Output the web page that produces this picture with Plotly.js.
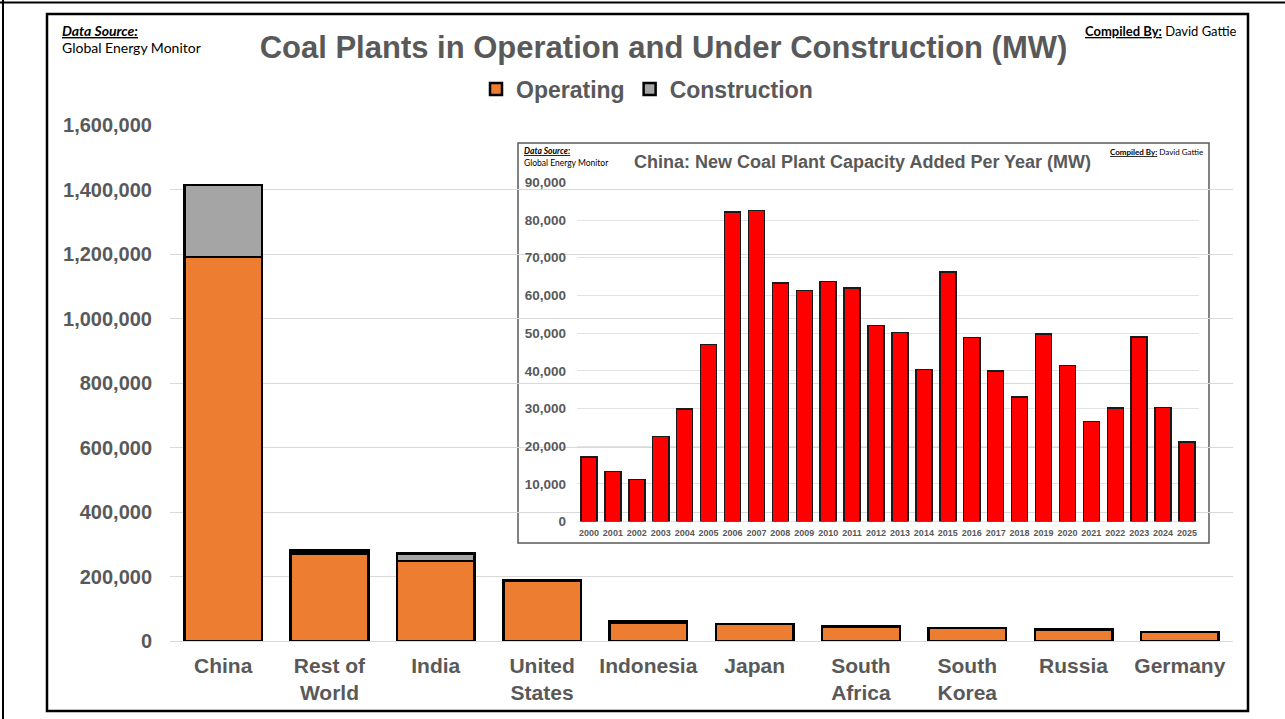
<!DOCTYPE html>
<html>
<head>
<meta charset="utf-8">
<script src="https://cdn.plot.ly/plotly-3.0.1.min.js"></script>
<style>html,body{margin:0;padding:0;background:#fff;}#chart{width:1285px;height:719px;}</style>
</head>
<body>
<div id="chart"></div>
<script>
// ---- Data ----
const categories = ['China', 'Rest of<br>World', 'India', 'United<br>States', 'Indonesia', 'Japan', 'South<br>Africa', 'South<br>Korea', 'Russia', 'Germany'];
const operating = [1190000, 272000, 248000, 188000, 57000, 53000, 44000, 41000, 35000, 28000];
const construction = [224000, 8000, 24000, 0, 5000, 0, 2000, 0, 3000, 0];

const years = ['2000','2001','2002','2003','2004','2005','2006','2007','2008','2009','2010','2011','2012',
               '2013','2014','2015','2016','2017','2018','2019','2020','2021','2022','2023','2024','2025'];
const chinaAdded = [17200, 13300, 11200, 22600, 29900, 47000, 82100, 82500, 63300, 61300, 63700, 61900, 52000,
                    50200, 40300, 66200, 48900, 39900, 33000, 49800, 41400, 26600, 30200, 49000, 30300, 21100];

// ---- Layout helpers (pixel -> paper) ----
const L = 170, R = 1233, T = 125, B = 641;
const px = x => (x - L) / (R - L);
const py = y => (B - y) / (B - T);
// inset plot area in pixels
const IL = 577, IR = 1199, IT = 182.3, IB = 521.6;
const ix = x => (x - IL) / (IR - IL);
const iy = y => (IB - y) / (IB - IT);

const GRAY = '#595959';
const FONT = '"Liberation Sans", Arial, sans-serif';
const CAL = 'Lato, "Open Sans", sans-serif';

const traces = [
  {type: 'bar', x: categories, y: operating, name: 'Operating', width: 0.73,
   marker: {color: '#ed7d31', line: {color: '#000000', width: 2.5}}, xaxis: 'x', yaxis: 'y'},
  {type: 'bar', x: categories, y: construction, name: 'Construction', width: 0.73,
   marker: {color: '#a5a5a5', line: {color: '#000000', width: 2.5}}, xaxis: 'x', yaxis: 'y'},
  {type: 'bar', x: years, y: chinaAdded, name: 'China', width: 0.67, showlegend: false,
   marker: {color: '#ff0000', line: {color: '#1a1a1a', width: 1.5}}, xaxis: 'x2', yaxis: 'y2'}
];

const layout = {
  width: 1285, height: 719,
  margin: {l: L, r: 1285 - R, t: T, b: 719 - B, pad: 0},
  paper_bgcolor: '#ffffff', plot_bgcolor: 'rgba(0,0,0,0)',
  barmode: 'stack',
  showlegend: true,
  title: {
    text: '<b>Coal Plants in Operation and Under Construction (MW)</b>',
    font: {family: FONT, size: 31, color: GRAY},
    xref: 'container', yref: 'container', x: 663.5 / 1285, xanchor: 'center', y: 1 - 47 / 719, yanchor: 'middle'
  },
  legend: {
    orientation: 'h', x: px(647), xanchor: 'center', y: py(89), yanchor: 'middle',
    font: {family: FONT, size: 23, color: GRAY, weight: 'bold'}, traceorder: 'normal',
    bgcolor: 'rgba(0,0,0,0)', itemwidth: 30
  },
  xaxis: {
    type: 'category', domain: [0, 1], anchor: 'y', showgrid: false, showline: false, zeroline: false, ticks: '',
    tickfont: {family: FONT, size: 21, color: GRAY, weight: 'bold'}, ticklabelstandoff: 10
  },
  yaxis: {
    domain: [0, 1], anchor: 'x', range: [0, 1600000], dtick: 200000, tickformat: ',d',
    showgrid: true, gridcolor: '#d9d9d9', gridwidth: 1, zeroline: true, zerolinecolor: '#d9d9d9', zerolinewidth: 1,
    showline: false, ticks: '', tickfont: {family: FONT, size: 20, color: GRAY, weight: 'bold'}, ticklabelstandoff: 17
  },
  xaxis2: {
    type: 'category', domain: [px(IL), px(IR)], anchor: 'y2', showgrid: false, showline: false, zeroline: false, ticks: '',
    tickfont: {family: FONT, size: 9, color: GRAY, weight: 'bold'}, ticklabelstandoff: 4
  },
  yaxis2: {
    domain: [py(IB), py(IT)], anchor: 'x2', range: [0, 90000], dtick: 10000, tickformat: ',d',
    showgrid: true, gridcolor: '#e3e3e3', gridwidth: 1, zeroline: true, zerolinecolor: '#e3e3e3', zerolinewidth: 1,
    showline: false, ticks: '', tickfont: {family: FONT, size: 13.5, color: GRAY, weight: 'bold'}, ticklabelstandoff: 10
  },
  shapes: [
    // inset background/frame (covers main gridlines, sits below inset grid)
    {type: 'rect', xref: 'x2 domain', yref: 'y2 domain', x0: ix(518), x1: ix(1209), y0: iy(543), y1: iy(143),
     fillcolor: '#ffffff', line: {color: '#595959', width: 1.5}, layer: 'below'},
    // main chart frame
    {type: 'rect', xref: 'paper', yref: 'paper', x0: px(47), x1: px(1248), y0: py(711), y1: py(14),
     fillcolor: 'rgba(0,0,0,0)', line: {color: '#000000', width: 2.5}, layer: 'above'},
    // outer border lines
    {type: 'line', xref: 'paper', yref: 'paper', x0: px(0), x1: px(1285), y0: py(2.5), y1: py(2.5),
     line: {color: '#000000', width: 2}, layer: 'above'},
    {type: 'line', xref: 'paper', yref: 'paper', x0: px(3), x1: px(3), y0: py(0), y1: py(719),
     line: {color: '#000000', width: 2}, layer: 'above'}
  ],
  annotations: [
    {text: '<b><i><u>Data Source:</u></i></b>', xref: 'paper', yref: 'paper', x: px(60), y: py(31),
     xanchor: 'left', yanchor: 'middle', showarrow: false, font: {family: CAL, size: 14, color: '#000'}},
    {text: 'Global Energy Monitor', xref: 'paper', yref: 'paper', x: px(60), y: py(48),
     xanchor: 'left', yanchor: 'middle', showarrow: false, font: {family: CAL, size: 14, color: '#000'}},
    {text: '<b><u>Compiled By:</u></b> David Gattie', xref: 'paper', yref: 'paper', x: px(1239), y: py(31),
     xanchor: 'right', yanchor: 'middle', showarrow: false, font: {family: CAL, size: 13, color: '#000'}},
    {text: '<b>China: New Coal Plant Capacity Added Per Year (MW)</b>', xref: 'paper', yref: 'paper', x: px(862.5), y: py(162),
     xanchor: 'center', yanchor: 'middle', showarrow: false, font: {family: FONT, size: 18, color: GRAY}},
    {text: '<b><i><u>Data Source:</u></i></b>', xref: 'paper', yref: 'paper', x: px(522), y: py(151),
     xanchor: 'left', yanchor: 'middle', showarrow: false, font: {family: CAL, size: 8.5, color: '#000'}},
    {text: 'Global Energy Monitor', xref: 'paper', yref: 'paper', x: px(522), y: py(162.5),
     xanchor: 'left', yanchor: 'middle', showarrow: false, font: {family: CAL, size: 8.5, color: '#000'}},
    {text: '<b><u>Compiled By:</u></b> David Gattie', xref: 'paper', yref: 'paper', x: px(1205), y: py(152),
     xanchor: 'right', yanchor: 'middle', showarrow: false, font: {family: CAL, size: 8, color: '#000'}}
  ]
};

Plotly.newPlot('chart', traces, layout, {staticPlot: true, displayModeBar: false});
</script>
</body>
</html>
